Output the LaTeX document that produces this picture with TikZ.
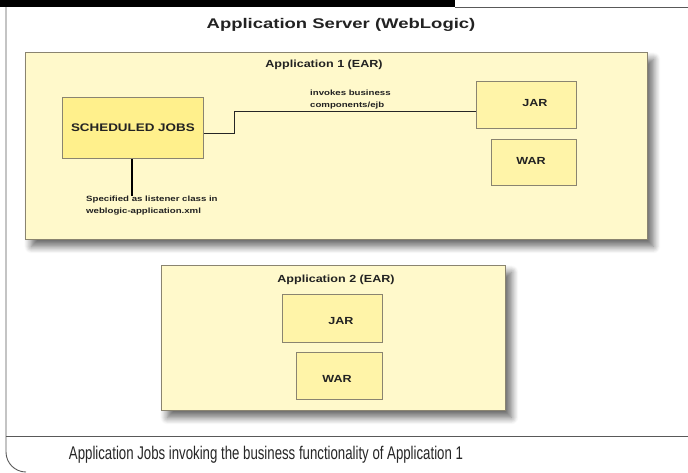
\documentclass[tikz,border=0pt]{standalone}
\usepackage{fontspec}
\setmainfont{Liberation Sans}
\newfontfamily\widebold[FakeStretch=1.22]{Liberation Sans}
\newfontfamily\titlebold[FakeStretch=1.32]{Liberation Sans}
\newfontfamily\smallbold[FakeStretch=1.27]{Liberation Sans}
\newfontfamily\capfont[FakeStretch=0.72]{Liberation Sans}
\usetikzlibrary{shadows.blur}
\definecolor{appfill}{HTML}{FFF9CB}
\definecolor{boxfill}{HTML}{FFF4A8}
\definecolor{jobfill}{HTML}{FFF08C}
\definecolor{edge}{HTML}{8A8470}
\definecolor{txt}{HTML}{222222}
\tikzset{
  appbox/.style={draw=edge, fill=appfill, line width=0.8pt, blur shadow={shadow xshift=6pt, shadow yshift=-7pt, shadow blur steps=10, shadow blur radius=7pt, shadow opacity=60}},
  partbox/.style={draw=edge, fill=boxfill, line width=0.8pt},
  jobbox/.style={draw=edge, fill=jobfill, line width=0.8pt},
  lbl/.style={text=txt, font=\fontsize{10.3}{12}\widebold\bfseries, inner sep=0pt},
  small/.style={text=txt, font=\fontsize{7.6}{11.8}\smallbold\bfseries, align=left, inner sep=0pt},
  conn/.style={draw=black!85, line width=0.8pt}
}
\begin{document}
\begin{tikzpicture}[x=1pt,y=-1pt]
\useasboundingbox (0,0) rectangle (688,472);
% frame
\fill[black] (0,0) rectangle (455,7);
\draw[gray!70!black, line width=0.9pt] (455,7) -- (688,7);
\draw[gray!70!black, line width=0.9pt] (6,7) -- (6,452) arc[start angle=180, end angle=270, x radius=20, y radius=-20];
\draw[gray!70!black, line width=0.8pt] (6,436) -- (688,436);
\node[lbl, font=\fontsize{14}{16}\titlebold\bfseries] (title) at (341,25) {Application Server (WebLogic)};
% Application 1
\node[appbox, minimum width=622pt, minimum height=187pt, anchor=north west, inner sep=0pt] (app1) at (25,52) {};
\node[lbl] (app1t) at (324,65) {Application 1 (EAR)};
\node[jobbox, minimum width=141pt, minimum height=61pt, anchor=north west, inner sep=0pt] (jobs) at (62,97) {};
\node[lbl, font=\fontsize{11}{12}\widebold\bfseries] at (jobs.center) {SCHEDULED JOBS};
\node[partbox, minimum width=100pt, minimum height=47pt, anchor=north west, inner sep=0pt] (jar1) at (476,81) {};
\node[lbl] at (535,103) {JAR};
\node[partbox, minimum width=85pt, minimum height=46pt, anchor=north west, inner sep=0pt] (war1) at (491,139) {};
\node[lbl] at (531,161) {WAR};
\coordinate (bend) at (234,111);
\draw[conn] (jobs.east |- 0,133) -- (bend |- 0,133) -- (bend) -- (jar1.west |- bend);
\node[small, anchor=south west] (inv) at (310,109) {invokes business\\components/ejb};
\coordinate (lend) at (132,196);
\draw[black, line width=2pt] (jobs.south -| lend) -- (lend);
\node[small, anchor=north west] (spec) at (86,196) {Specified as listener class in\\weblogic-application.xml};
% Application 2
\node[appbox, minimum width=344pt, minimum height=145pt, anchor=north west, inner sep=0pt] (app2) at (161,265) {};
\node[lbl] (app2t) at (336,280) {Application 2 (EAR)};
\node[partbox, minimum width=100pt, minimum height=48pt, anchor=north west, inner sep=0pt] (jar2) at (282,294) {};
\node[lbl] at (341,321) {JAR};
\node[partbox, minimum width=86pt, minimum height=47pt, anchor=north west, inner sep=0pt] (war2) at (296,352) {};
\node[lbl] at (337,379) {WAR};
% caption
\node[inner sep=0pt, text=black!85] (cap) at (266,455) {\resizebox{394pt}{!}{\fontsize{13}{15}\capfont Application Jobs invoking the business functionality of Application 1}};
\end{tikzpicture}
\end{document}
